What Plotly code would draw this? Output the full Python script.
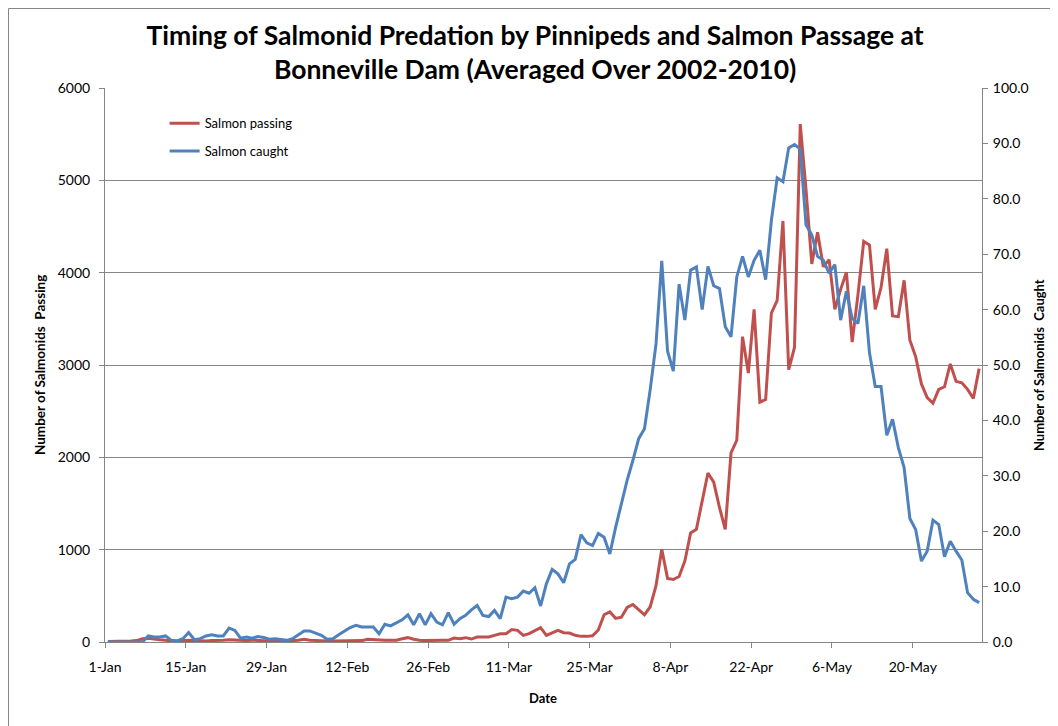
import pandas as pd
import plotly.graph_objects as go

# ---- data (daily averages, 1-Jan .. 31-May, leap-year calendar) ----
start_date = "2008-01-01"
n_days = 152

salmon_passing = [
    5, 5, 5, 5, 10, 15, 35, 40, 30, 25, 20, 10, 10, 15, 20, 15, 10, 10, 15, 15,
    20, 25, 20, 15, 15, 20, 15, 10, 10, 10, 10, 10, 15, 20, 30, 20, 15, 10, 10, 10,
    10, 10, 10, 10, 15, 30, 25, 15, 18, 18, 20, 35, 47, 30, 18, 15, 18, 25, 20, 18,
    43, 36, 47, 32, 54, 54, 54, 72, 90, 90, 134, 126, 72, 90, 119, 155, 72, 101, 126, 101,
    97, 72, 61, 61, 67, 130, 295, 327, 256, 268, 374, 406, 346, 295, 382, 610, 1004, 689, 677, 709,
    878, 1181, 1220, 1516, 1831, 1732, 1457, 1220, 2047, 2185, 3307, 2913, 3602, 2598, 2626, 3563, 3701, 4560, 2950, 3190,
    5610, 4900, 4094, 4437, 4063, 4142, 3602, 3819, 4004, 3248, 3760, 4339, 4299, 3602, 3839, 4260, 3531, 3524, 3917, 3268,
    3091, 2795, 2646, 2587, 2736, 2764, 3012, 2823, 2807, 2736, 2638, 2961,
]

salmon_caught = [
    0, 0, 0, 0, 0, 0, 0, 1.1, 0.9, 0.9, 1.1, 0.3, 0.2, 0.6, 1.7, 0.4, 0.6, 1.1, 1.3, 1.1,
    1.1, 2.5, 2.1, 0.7, 0.9, 0.7, 1.0, 0.8, 0.5, 0.6, 0.5, 0.3, 0.6, 1.3, 2.0, 2.0, 1.6, 1.2, 0.5, 0.6,
    1.3, 1.9, 2.6, 3.0, 2.7, 2.7, 2.7, 1.5, 3.2, 2.9, 3.5, 4.0, 4.9, 3.1, 5.1, 3.1, 5.1, 3.6, 3.1, 5.3,
    3.2, 4.2, 4.8, 5.8, 6.6, 4.8, 4.6, 5.7, 4.2, 8.1, 7.8, 8.1, 9.2, 8.8, 9.8, 6.5, 10.5, 13.1, 12.3, 10.7,
    14.1, 14.9, 19.4, 17.9, 17.4, 19.6, 18.9, 15.9, 20.7, 24.9, 29.2, 32.8, 36.7, 38.5, 45.6, 53.8, 68.8, 52.5, 48.9, 64.6,
    58.1, 67.1, 67.7, 60.0, 67.8, 64.3, 63.8, 56.9, 55.1, 65.9, 69.6, 65.9, 68.9, 70.7, 65.4, 76.1, 83.8, 83.1, 89.2, 89.8,
    89.0, 75.3, 73.5, 69.6, 68.9, 66.6, 68.1, 58.1, 63.3, 58.4, 57.5, 64.3, 52.2, 46.1, 46.1, 37.3, 40.2, 35.1, 31.5, 22.3,
    20.3, 14.6, 16.4, 22.0, 21.2, 15.4, 18.2, 16.4, 14.8, 8.9, 7.7, 7.1,
]

tick_labels = ["1-Jan", "15-Jan", "29-Jan", "12-Feb", "26-Feb", "11-Mar",
               "25-Mar", "8-Apr", "22-Apr", "6-May", "20-May"]

# each daily value is centred in its day slot
dates = pd.date_range(start_date, periods=n_days, freq="D") + pd.Timedelta(hours=12)
tick_vals = pd.date_range(start_date, periods=len(tick_labels), freq="14D")

RED = "#C0504D"
BLUE = "#4F81BD"
GRID = "#868686"
FONT = "Lato, 'Open Sans', sans-serif"

fig = go.Figure()
fig.add_trace(go.Scatter(x=dates, y=salmon_passing, name="Salmon passing",
                         mode="lines", line=dict(color=RED, width=3),
                         legendgroup="a", yaxis="y"))
fig.add_trace(go.Scatter(x=dates, y=salmon_caught, name="Salmon caught",
                         mode="lines", line=dict(color=BLUE, width=3),
                         legendgroup="b", yaxis="y2"))

# page body adds an 8px offset, so the figure is 8px smaller than the window
fig.update_layout(
    width=1050, height=718,
    margin=dict(l=97, r=76, t=80, b=84, autoexpand=False),
    paper_bgcolor="white", plot_bgcolor="white",
    font=dict(family=FONT, size=14, color="black"),
    title=dict(
        text="Timing of Salmonid Predation by Pinnipeds and Salmon Passage at<br>Bonneville Dam (Averaged Over 2002-2010)",
        x=0.502, xanchor="center", xref="container",
        y=0.949, yanchor="top", yref="container",
        font=dict(family=FONT, size=26.5, color="black", weight="bold"),
    ),
    xaxis=dict(
        type="date", range=["2008-01-01", "2008-06-01"],
        tickvals=tick_vals, ticktext=tick_labels,
        showgrid=False, showline=True, linecolor=GRID, linewidth=1,
        ticks="outside", ticklen=5, tickcolor=GRID, ticklabelstandoff=7,
        tickfont=dict(size=14), zeroline=False,
    ),
    yaxis=dict(
        range=[0, 6000], dtick=1000, tickformat="d",
        showgrid=True, gridcolor=GRID, gridwidth=1,
        showline=True, linecolor=GRID, linewidth=1,
        ticks="outside", ticklen=5, tickcolor=GRID, ticklabelstandoff=6,
        tickfont=dict(size=14), zeroline=False,
    ),
    yaxis2=dict(
        range=[0, 100], dtick=10, tickformat=".1f",
        overlaying="y", side="right", showgrid=False,
        showline=True, linecolor=GRID, linewidth=1,
        ticks="outside", ticklen=5, tickcolor=GRID, ticklabelstandoff=2,
        tickfont=dict(size=14), zeroline=False,
    ),
    legend=dict(
        x=0.068, y=0.9635, xanchor="left", yanchor="top",
        bgcolor="rgba(0,0,0,0)", borderwidth=0,
        font=dict(size=13), tracegroupgap=8, traceorder="grouped",
        itemwidth=30,
    ),
    showlegend=True,
)

# axis titles
fig.add_annotation(text="<b>Number of Salmonids&nbsp; Passing</b>", textangle=-90,
                   xref="paper", yref="paper", x=-0.0855, y=0.5,
                   showarrow=False, font=dict(size=13.5))
fig.add_annotation(text="<b>Number of Salmonids&nbsp; Caught</b>", textangle=-90,
                   xref="paper", yref="paper", x=1.0765, y=0.5,
                   showarrow=False, font=dict(size=13))
fig.add_annotation(text="<b>Date</b>", xref="paper", yref="paper",
                   x=0.4997, y=-0.1192, showarrow=False, font=dict(size=13))

# chart-area border (left and top edges, at the figure's edge)
fig.add_shape(type="line", xref="paper", yref="paper",
              x0=-0.1100, x1=-0.1100, y0=-0.2, y1=1.1435,
              line=dict(color=GRID, width=1), layer="above")
fig.add_shape(type="line", xref="paper", yref="paper",
              x0=-0.1100, x1=1.2, y0=1.1435, y1=1.1435,
              line=dict(color=GRID, width=1), layer="above")

fig.write_html("out.html")
